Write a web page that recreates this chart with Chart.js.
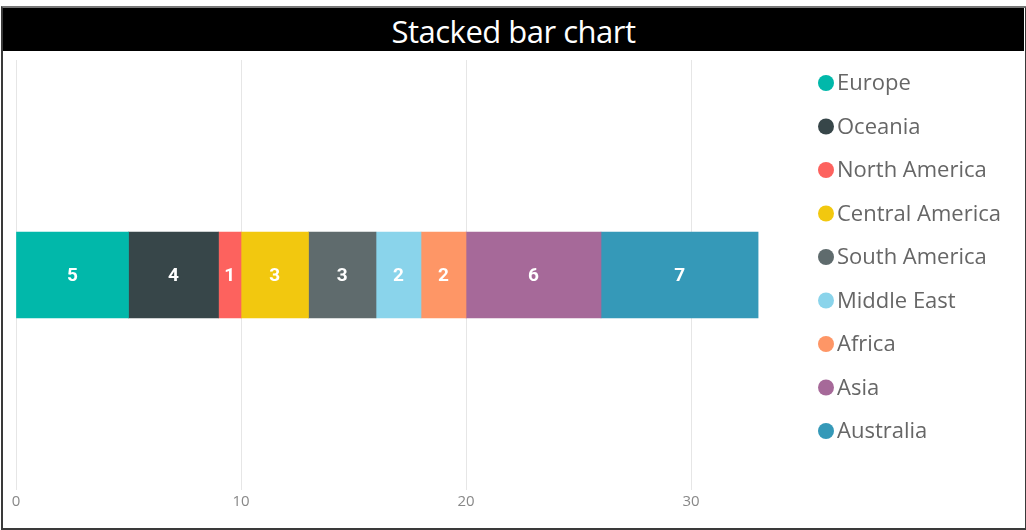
<!DOCTYPE html>
<html>
<head>
<meta charset="utf-8">
<script src="https://cdn.jsdelivr.net/npm/chart.js@4"></script>
<style>
  html, body { margin: 0; padding: 0; background: #fff; }
  #wrap { position: relative; width: 1026px; height: 530px; overflow: hidden; }
  #frame { position: absolute; left: 1px; top: 6px; width: 1022px; height: 520px; border: 2px solid #3a3a3a; border-top-color: #777; box-sizing: content-box; }
  #title { position: absolute; left: 3px; top: 8px; width: 1021px; height: 43px; background: #000; color: #fff;
           font: 31px "Open Sans", "Noto Sans", sans-serif; text-align: center; line-height: 47px; letter-spacing: -0.5px; }
  canvas { position: absolute; left: 0; top: 0; }
</style>
</head>
<body>
<div id="wrap">
  <div id="frame"></div>
  <div id="title">Stacked bar chart</div>
  <canvas id="chart" width="1026" height="530"></canvas>
</div>
<script>
// one bar, nine stacked regions
const categories = [''];
const regions = ['Europe', 'Oceania', 'North America', 'Central America', 'South America', 'Middle East', 'Africa', 'Asia', 'Australia'];
const values = [5, 4, 1, 3, 3, 2, 2, 6, 7];
const colors = ['#01B8AA', '#374649', '#FD625E', '#F2C80F', '#5F6B6D', '#8AD4EB', '#FE9666', '#A66999', '#3599B8'];
const xTicks = [0, 10, 20, 30];

const datasets = regions.map((name, i) => ({
  label: name,
  data: [values[i]],
  backgroundColor: colors[i],
  borderWidth: 0,
  barThickness: 86
}));

// white value labels in the middle of each segment
const valueLabels = {
  id: 'valueLabels',
  afterDatasetsDraw(chart) {
    const ctx = chart.ctx;
    ctx.save();
    ctx.fillStyle = '#fff';
    ctx.font = 'bold 19px "Liberation Sans Narrow", Roboto, sans-serif';
    ctx.textAlign = 'center';
    ctx.textBaseline = 'middle';
    chart.data.datasets.forEach((ds, i) => {
      chart.getDatasetMeta(i).data.forEach((bar, j) => {
        ctx.fillText(String(ds.data[j]), (bar.x + bar.base) / 2, bar.y + 1);
      });
    });
    ctx.restore();
  }
};

// legend on the right, drawn by hand so spacing matches
const sideLegend = {
  id: 'sideLegend',
  afterDraw(chart) {
    const ctx = chart.ctx;
    ctx.save();
    ctx.font = '22px "Open Sans", "Noto Sans", sans-serif';
    ctx.textBaseline = 'middle';
    chart.data.datasets.forEach((ds, i) => {
      const y = 84 + i * 43.5;
      ctx.fillStyle = ds.backgroundColor;
      ctx.beginPath();
      ctx.arc(826, y - 1, 8, 0, Math.PI * 2);
      ctx.fill();
      ctx.fillStyle = '#666';
      ctx.fillText(ds.label, 837, y);
    });
    ctx.restore();
  }
};

new Chart(document.getElementById('chart'), {
  type: 'bar',
  data: { labels: categories, datasets: datasets },
  options: {
    indexAxis: 'y',
    responsive: false,
    animation: false,
    layout: { padding: { left: 16, right: 267.5, top: 60, bottom: 16 } },
    plugins: { legend: { display: false }, tooltip: { enabled: false } },
    scales: {
      y: { stacked: true, display: false },
      x: {
        stacked: true,
        min: 0,
        max: 33,
        afterBuildTicks(scale) { scale.ticks = xTicks.map(v => ({ value: v })); },
        grid: { color: '#e6e6e6', drawTicks: false },
        border: { display: false },
        ticks: { color: '#888', padding: 3, font: { family: '"Open Sans", "Noto Sans", sans-serif', size: 15 } }
      }
    }
  },
  plugins: [valueLabels, sideLegend]
});
</script>
</body>
</html>
